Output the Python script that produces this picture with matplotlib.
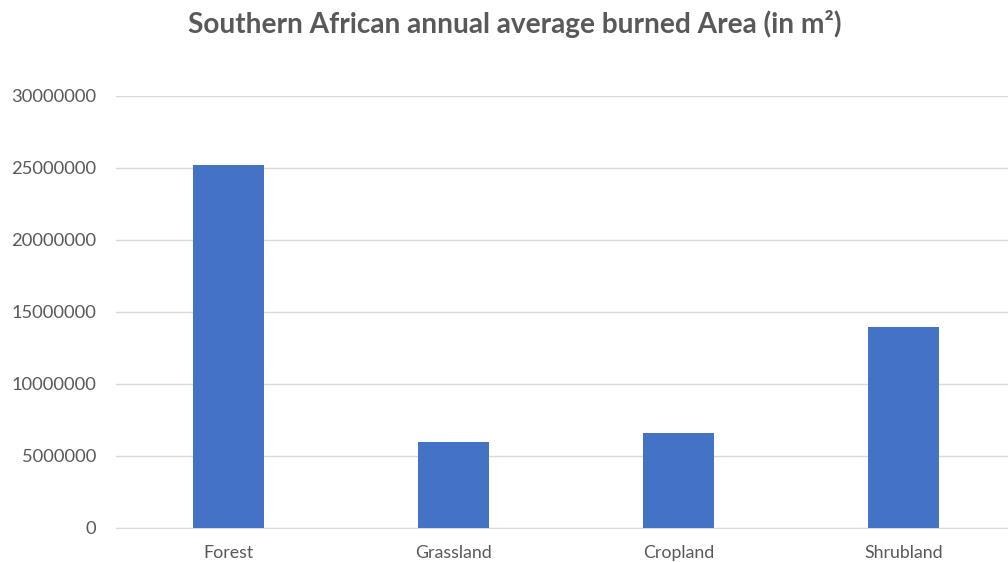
import matplotlib
matplotlib.use("Agg")
import matplotlib.pyplot as plt

categories = ["Forest", "Grassland", "Cropland", "Shrubland"]
burned_area = [25200000, 5950000, 6580000, 13940000]
y_ticks = [0, 5000000, 10000000, 15000000, 20000000, 25000000, 30000000]

TEXT = "#595959"
plt.rcParams["font.family"] = ["Lato", "DejaVu Sans"]

fig = plt.figure(figsize=(10.08, 5.62), dpi=100)
# plot area runs past the right edge of the canvas
ax = fig.add_axes([116 / 1008, 1 - 528 / 562, 900 / 1008, 432 / 562])

ax.bar(range(len(categories)), burned_area, width=0.316, color="#4472C4", zorder=3)

ax.set_xlim(-0.5, len(categories) - 0.5)
ax.set_ylim(0, 30000000)
ax.set_yticks(y_ticks)
ax.set_yticklabels([str(v) for v in y_ticks])
ax.set_xticks(range(len(categories)))
ax.set_xticklabels(categories)
ax.tick_params(axis="y", length=0, colors=TEXT, labelsize=13.2, pad=14)
ax.tick_params(axis="x", length=0, colors=TEXT, labelsize=12.8, pad=12)

ax.grid(axis="y", color="#d9d9d9", linewidth=1, zorder=0)
for side in ["top", "right", "left"]:
    ax.spines[side].set_visible(False)
ax.spines["bottom"].set_color("#d9d9d9")

fig.text(515 / 1008, 1 - 24 / 562, "Southern African annual average burned Area (in m²)",
         ha="center", va="center", fontsize=20.2, fontweight="bold", color=TEXT)

fig.savefig("out.png", dpi=100)
